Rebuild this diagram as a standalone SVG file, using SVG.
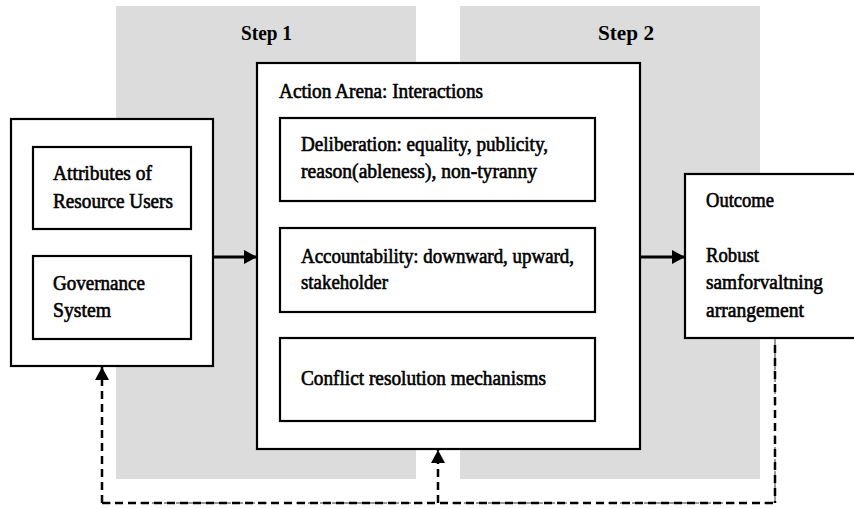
<svg xmlns="http://www.w3.org/2000/svg" width="854" height="509" viewBox="0 0 854 509">
<style>
.panel{fill:#dcdcdc;stroke:none}
.box{fill:#fff;stroke:#000;stroke-width:2.2}
.t{font-family:"Liberation Serif","Times New Roman",serif;font-size:20px;fill:#000;stroke:#000;stroke-width:0.6}
.h{font-family:"Liberation Serif","Times New Roman",serif;font-size:20px;fill:#000;font-weight:bold}
.solid{stroke:#000;stroke-width:3;fill:none}
.dash{stroke:#000;stroke-width:2.5;fill:none;stroke-dasharray:8,5}
.gdash{stroke:#777;stroke-width:1.5;fill:none;stroke-dasharray:7,5}
</style>
<defs>
<marker id="ah" markerUnits="userSpaceOnUse" markerWidth="14" markerHeight="14" refX="13" refY="7" orient="auto">
<path d="M0,0 L13,7 L0,14 Z" fill="#000"/>
</marker>
</defs>
<rect class="panel" x="116" y="6" width="300" height="473"/>
<rect class="panel" x="460" y="6" width="300" height="473"/>
<text class="h" x="241" y="40" textLength="51" lengthAdjust="spacingAndGlyphs">Step 1</text>
<text class="h" x="598" y="40" textLength="56" lengthAdjust="spacingAndGlyphs">Step 2</text>
<g id="connectors">
<line class="solid" x1="213" y1="257" x2="257" y2="257" marker-end="url(#ah)"/>
<line class="solid" x1="640" y1="257" x2="685" y2="257" marker-end="url(#ah)"/>
<polyline class="gdash" points="775,339 775,503 102,503"/>
<line class="dash" x1="775" y1="345" x2="775" y2="503" stroke-width="1.8" stroke-dasharray="8,20"/>
<line class="dash" x1="102" y1="503" x2="775" y2="503" stroke-dasharray="8,16"/>
<line class="dash" x1="102" y1="503" x2="102" y2="367" marker-end="url(#ah)"/>
<line class="dash" x1="438" y1="503" x2="438" y2="450" marker-end="url(#ah)"/>
</g>
<g id="left">
<rect class="box" x="11" y="119" width="202" height="247"/>
</g>
<g id="attributes">
<rect class="box" x="33" y="147" width="158" height="82"/>
<text class="t" x="53" y="180" textLength="99" lengthAdjust="spacingAndGlyphs">Attributes of</text>
<text class="t" x="53" y="208" textLength="120" lengthAdjust="spacingAndGlyphs">Resource Users</text>
</g>
<g id="governance">
<rect class="box" x="33" y="256" width="158" height="83"/>
<text class="t" x="53" y="290" textLength="92" lengthAdjust="spacingAndGlyphs">Governance</text>
<text class="t" x="53" y="317" textLength="58" lengthAdjust="spacingAndGlyphs">System</text>
</g>
<g id="arena">
<rect class="box" x="257" y="63" width="383" height="386"/>
<text class="t" x="279" y="98" textLength="204" lengthAdjust="spacingAndGlyphs">Action Arena: Interactions</text>
</g>
<g id="deliberation">
<rect class="box" x="280" y="118" width="315" height="83"/>
<text class="t" x="301" y="151" textLength="247" lengthAdjust="spacingAndGlyphs">Deliberation: equality, publicity,</text>
<text class="t" x="301" y="178" textLength="236" lengthAdjust="spacingAndGlyphs">reason(ableness), non-tyranny</text>
</g>
<g id="accountability">
<rect class="box" x="280" y="228" width="315" height="84"/>
<text class="t" x="301" y="263" textLength="273" lengthAdjust="spacingAndGlyphs">Accountability: downward, upward,</text>
<text class="t" x="301" y="289" textLength="87" lengthAdjust="spacingAndGlyphs">stakeholder</text>
</g>
<g id="conflict">
<rect class="box" x="280" y="338" width="315" height="83"/>
<text class="t" x="301" y="385" textLength="245" lengthAdjust="spacingAndGlyphs">Conflict resolution mechanisms</text>
</g>
<g id="outcome">
<rect class="box" x="685" y="174" width="180" height="164"/>
<text class="t" x="706" y="207" textLength="68" lengthAdjust="spacingAndGlyphs">Outcome</text>
<text class="t" x="706" y="262" textLength="53" lengthAdjust="spacingAndGlyphs">Robust</text>
<text class="t" x="706" y="289" textLength="117" lengthAdjust="spacingAndGlyphs">samforvaltning</text>
<text class="t" x="706" y="317" textLength="98" lengthAdjust="spacingAndGlyphs">arrangement</text>
</g>
</svg>
